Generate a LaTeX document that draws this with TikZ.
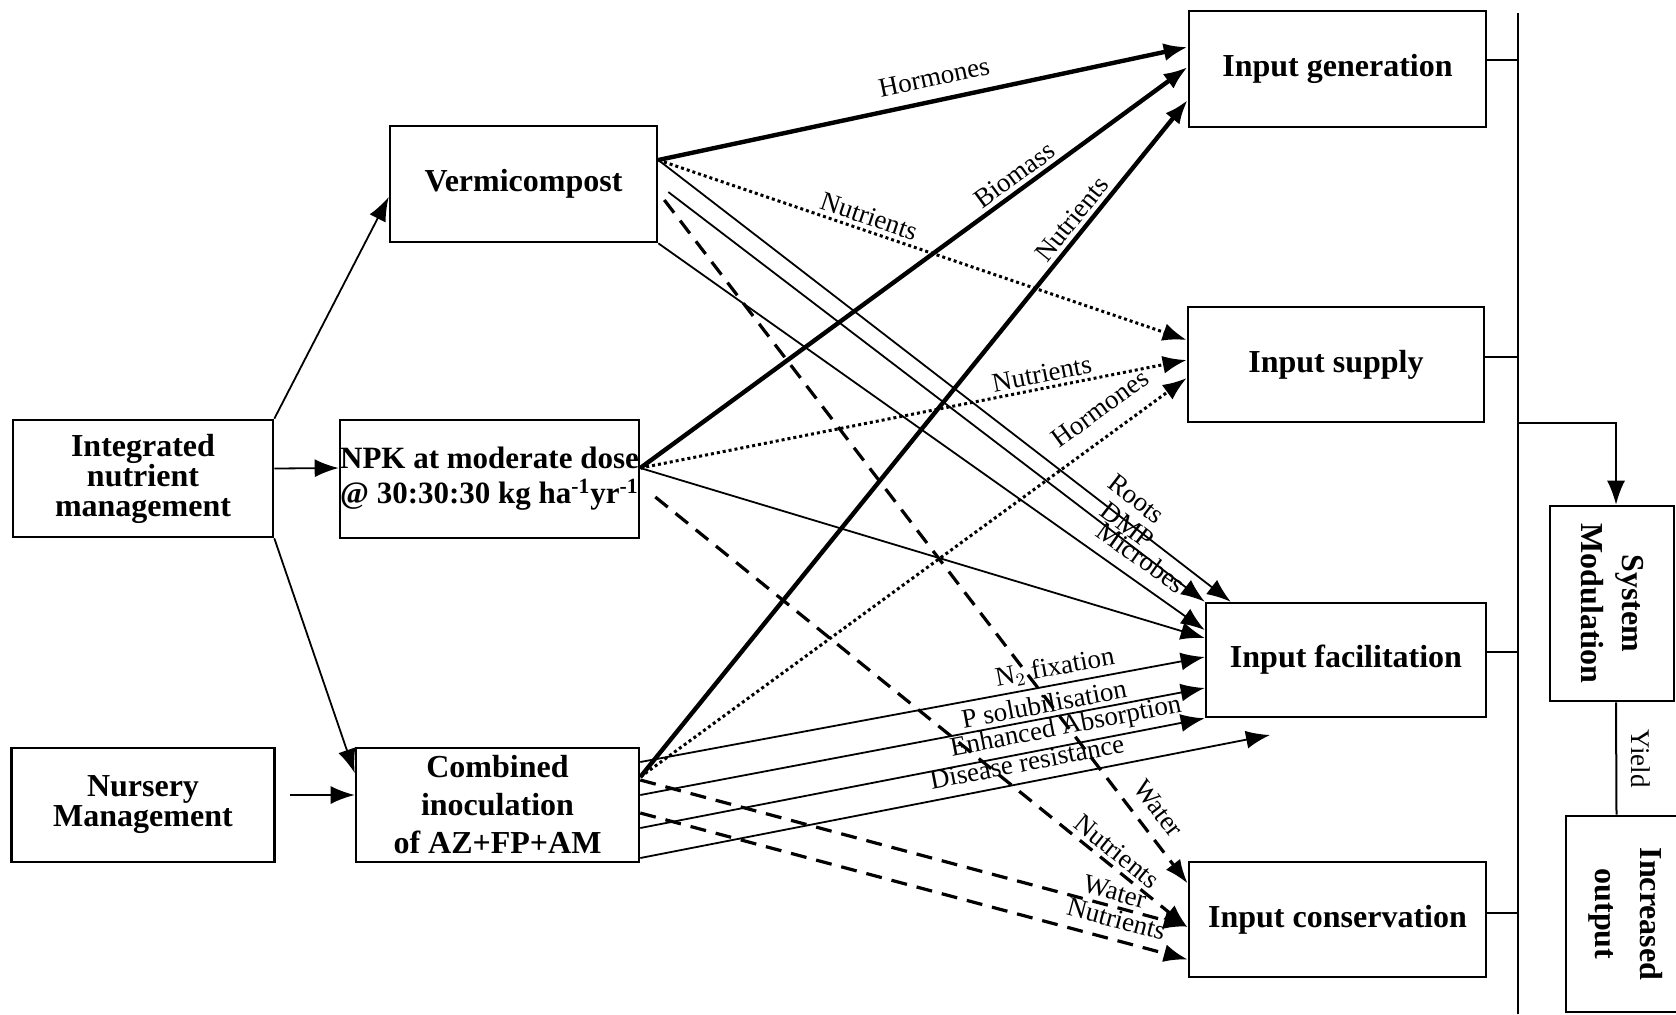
\documentclass[tikz,border=0pt]{standalone}
\usepackage{fontspec}
\setmainfont{Liberation Serif}
\usetikzlibrary{arrows.meta,calc,positioning}
\tikzstyle{box}=[rectangle,draw,line width=1.3pt,inner sep=0pt,align=center,
  font=\fontsize{16}{16}\selectfont\bfseries]
\tikzstyle{lbl}=[sloped,above,inner sep=2pt,font=\fontsize{13.5}{14}\selectfont]

\begin{document}
\begin{tikzpicture}[x=0.5pt,y=-0.5pt,>={Latex[length=12pt,width=9pt]}]
  \tikzstyle{heavy}=[->,line width=2.2pt]
  \tikzstyle{light}=[->,line width=0.9pt]
  \tikzstyle{dotty}=[->,line width=1.5pt,dash pattern=on 1.5pt off 1.5pt]
  \tikzstyle{dashy}=[->,line width=1.6pt,dash pattern=on 8pt off 5pt]
  \tikzstyle{tie}=[line width=1pt]

  \useasboundingbox (0,0) rectangle (1676,1014);

  % practices
  \node[box,minimum width=130pt,minimum height=58.5pt,font=\fontsize{16}{15}\selectfont\bfseries] (inm) at (143,478.5) {Integrated\\nutrient\\management};
  \node[box,minimum width=131.5pt,minimum height=57pt,font=\fontsize{16}{15}\selectfont\bfseries] (nurs) at (143,805) {Nursery\\Management};
  \node[box,minimum width=133.5pt,minimum height=58pt] (verm) at (523.5,184) {Vermicompost};
  \node[box,minimum width=149.5pt,minimum height=59pt,font=\fontsize{15.5}{17.5}\selectfont\bfseries] (npk) at (489.5,479) {NPK at moderate dose\\@ 30:30:30 kg ha\textsuperscript{-1}yr\textsuperscript{-1}};
  \node[box,minimum width=141.5pt,minimum height=57pt,font=\fontsize{16}{19}\selectfont\bfseries] (comb) at (497.5,805) {Combined\\inoculation\\of AZ+FP+AM};

  % effects
  \node[box,minimum width=148.5pt,minimum height=58pt] (gen) at (1337.5,69) {Input generation};
  \node[box,minimum width=148pt,minimum height=57.5pt] (sup) at (1336,364.5) {Input supply};
  \node[box,minimum width=140pt,minimum height=57pt] (fac) at (1346,660) {Input facilitation};
  \node[box,minimum width=148.5pt,minimum height=57.5pt] (cons) at (1337.5,919.5) {Input conservation};

  % rotated boxes: west is the top, east the bottom
  \node[box,rotate=-90,minimum width=97.5pt,minimum height=62pt,font=\fontsize{16}{20.5}\selectfont\bfseries] (sysmod) at (1612,603.5) {System\\Modulation};
  \node[box,rotate=-90,minimum width=98pt,minimum height=59.5pt,font=\fontsize{16}{22.5}\selectfont\bfseries] (incout) at (1625.5,914) {Increased\\output};

  \coordinate (bartop) at (1518,13);
  \coordinate (barbot) at (1518,1014);
  \coordinate (branch) at (1518,423);
  \coordinate (dis) at (1270,735);

  % management to practices
  \draw[light] (inm.north east) -- ($(verm.west)+(0,13)$);
  \draw[light] ($(inm.east)+(0,-10)$) -- ($(npk.west)+(0,-11)$);
  \draw[light] (inm.south east) -- ($(comb.west)+(0,-32)$);
  \draw[light] ($(nurs.east)+(14,-10)$) -- ($(comb.west)+(0,-10)$);

  % vermicompost
  \path ($(verm.east)+(0,-24)$) edge[heavy] node[lbl,above=4pt,pos=.53] {Hormones} ($(gen.west)+(0,-22)$)
                                edge[dotty] node[lbl,pos=.39] {Nutrients} ($(sup.west)+(0,-24.5)$)
                                edge[light] node[lbl,above=5pt,pos=.81] {Roots} ($(fac.north west)+(26,0)$);
  \path ($(verm.east)+(10,8)$) edge[light] node[lbl,pos=.84] {DMP} (fac.north west);
  \path ($(verm.east)+(6,16)$) edge[dashy] node[lbl,above=4pt,pos=.91] {Water} ($(cons.west)+(0,-36)$);
  \path (verm.south east) edge[light] node[lbl,above=4pt,pos=.86] {Microbes} ($(fac.west)+(0,-30)$);

  % NPK
  \path ($(npk.east)+(0,-11)$) edge[heavy] node[lbl,pos=.70] {Biomass} ($(gen.west)+(0,-2)$)
                               edge[dotty] node[lbl,pos=.74] {Nutrients} ($(sup.west)+(0,-4.5)$)
                               edge[light] ($(fac.west)+(0,-22)$);
  \path ($(npk.east)+(15,18)$) edge[dashy] node[lbl,pos=.85] {Nutrients} ($(cons.west)+(0,8)$);

  % inoculation
  \path ($(comb.east)+(0,-28)$) edge[heavy] node[lbl,pos=.81] {Nutrients} ($(gen.west)+(0,31)$)
                                edge[dotty] node[lbl,above=6pt,pos=.87] {Hormones} ($(sup.west)+(0,13.5)$);
  \path ($(comb.east)+(0,-43)$) edge[light] node[lbl,pos=.74] {N$_2$ fixation} ($(fac.west)+(0,-3)$);
  \path ($(comb.east)+(0,-10)$) edge[light] node[lbl,pos=.72] {P solubilisation} ($(fac.west)+(0,28)$);
  \path ($(comb.east)+(0,23)$) edge[light] node[lbl,pos=.76] {Enhanced Absorption} (fac.south west);
  \path ($(comb.east)+(0,53)$) edge[light] node[lbl,above=3pt,pos=.62] {Disease resistance} (dis);
  \path ($(comb.east)+(0,-25)$) edge[dashy] node[lbl,pos=.86] {Water} ($(cons.west)+(0,7)$);
  \path ($(comb.east)+(0,8)$) edge[dashy] node[lbl,above=3pt,pos=.86] {Nutrients} ($(cons.west)+(0,40)$);

  % collecting bar
  \draw[tie] (bartop) -- (barbot);
  \draw[tie] (gen.east) ++(0,-9) -- ++(32,0);
  \draw[tie] (sup.east) ++(0,-8) -- ++(34,0);
  \draw[tie] (fac.east) ++(0,-8) -- ++(32,0);
  \draw[tie] (cons.east) ++(0,-7) -- ++(32,0);
  \draw[tie,->] (branch) -| ([xshift=2pt]sysmod.west);
  \draw[tie] ([xshift=2pt]sysmod.east) -- node[rotate=-90,anchor=south,inner sep=7pt,font=\fontsize{13.5}{14}\selectfont] {Yield} ([xshift=-4.5pt]incout.west);
\end{tikzpicture}
\end{document}
